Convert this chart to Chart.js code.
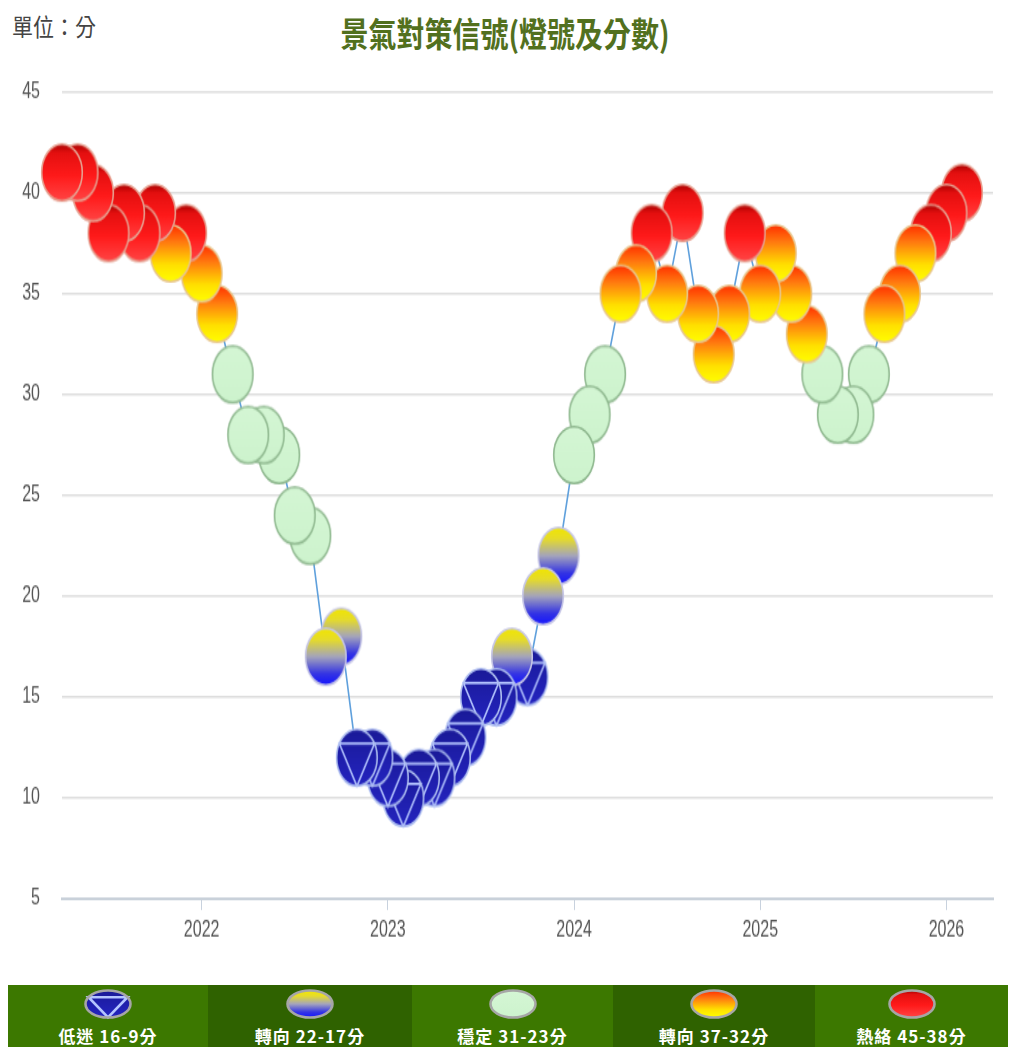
<!DOCTYPE html>
<html>
<head>
<meta charset="utf-8">
<script src="https://cdn.jsdelivr.net/npm/chart.js@4.4.1/dist/chart.umd.min.js"></script>
<style>
  body { margin: 0; background: #fff; width: 1010px; height: 1047px; overflow: hidden; position: relative;
         font-family: "Noto Sans CJK TC", "Noto Sans", sans-serif; }
  #unit { position: absolute; left: 12px; top: 14px; font-size: 21px; line-height: 21px; color: #444;
          transform: scaleY(1.15); transform-origin: 0 0; white-space: nowrap; }
  #title { position: absolute; left: 0; top: 15px; width: 1010px; text-align: center; font-size: 28px; line-height: 28px;
           color: #52701e; font-weight: bold; transform: scaleY(1.22); transform-origin: 0 0; white-space: nowrap; }
  #stretch { position: absolute; left: 0; top: 0; width: 1010px; height: 700px; transform: scaleY(1.4); transform-origin: 0 0; }
  #myChart { position: absolute; left: 0; top: 34px; }
  #legend { position: absolute; left: 8px; top: 985px; height: 62px; display: flex; }
  .cell { height: 62px; position: relative; text-align: center; color: #fff; font-weight: bold; font-size: 17px; letter-spacing: 1px; }
  .cell canvas { position: absolute; left: 50%; top: 2px; margin-left: -26px; }
  .cell span { position: absolute; left: 0; right: 0; top: 41px; line-height: 20px; white-space: nowrap; }
</style>
</head>
<body>
<div id="unit">單位：分</div>
<div id="title">景氣對策信號(燈號及分數)</div>
<div id="stretch"><canvas id="myChart" width="1010" height="656"></canvas></div>
<div id="legend"></div>
<script>
// monthly scores of the business cycle signal
const months = [
  '2021-04','2021-05','2021-06','2021-07','2021-08','2021-09','2021-10','2021-11','2021-12',
  '2022-01','2022-02','2022-03','2022-04','2022-05','2022-06','2022-07','2022-08','2022-09','2022-10','2022-11','2022-12',
  '2023-01','2023-02','2023-03','2023-04','2023-05','2023-06','2023-07','2023-08','2023-09','2023-10','2023-11','2023-12',
  '2024-01','2024-02','2024-03','2024-04','2024-05','2024-06','2024-07','2024-08','2024-09','2024-10','2024-11','2024-12',
  '2025-01','2025-02','2025-03','2025-04','2025-05','2025-06','2025-07','2025-08','2025-09','2025-10','2025-11','2025-12',
  '2026-01','2026-02'
];
const scores = [
  41, 41, 40, 38, 39, 38, 39, 37, 38,
  36, 34, 31, 28, 28, 27, 24, 23, 17, 18, 12, 12,
  11, 10, 11, 11, 12, 13, 15, 15, 17, 16, 20, 22,
  27, 29, 31, 35, 36, 38, 35, 39, 34, 32, 34, 38,
  35, 37, 35, 33, 31, 29, 29, 31, 34, 35, 37, 38,
  39, 40
];
const tickYears = ['2022', '2023', '2024', '2025', '2026'];
const yTicks = [5, 10, 15, 20, 25, 30, 35, 40, 45];
const legendLabels = ['低迷 16-9分', '轉向 22-17分', '穩定 31-23分', '轉向 37-32分', '熱絡 45-38分'];
const legendKinds = ['blue', 'blueYellow', 'green', 'orange', 'red'];
const legendBg = ['#3c7800', '#2f6200', '#3c7800', '#2f6200', '#3c7800'];
const legendWidths = [200, 204, 201, 202, 193];

function monthIndex(m) {
  const [y, mo] = m.split('-').map(Number);
  return (y - 2021) * 12 + (mo - 1);
}

function kindOf(v) {
  if (v <= 16) return 'blue';
  if (v <= 22) return 'blueYellow';
  if (v <= 31) return 'green';
  if (v <= 37) return 'orange';
  return 'red';
}

const lampFill = {
  red: [[0, '#a80000'], [0.15, '#e41010'], [0.55, '#ff1a1a'], [1, '#ff4545']],
  orange: [[0, '#ff3000'], [0.3, '#ff7a10'], [0.7, '#ffe000'], [1, '#ffff00']],
  green: [[0, '#d4f6d4'], [1, '#cdf3cd']],
  blueYellow: [[0, '#f2e600'], [0.2, '#e6dc2a'], [0.5, '#a4a4bc'], [0.8, '#3434e4'], [1, '#1414ff']],
  blue: [[0, '#1a1a98'], [1, '#2424c0']]
};
const lampRim = { red: '#e6a090', orange: '#e8c68e', green: '#8fb88f', blueYellow: '#c6c6e6', blue: '#aebef0' };

function paintLamp(c, cx, cy, rx, ry, kind, rim, rimWidth) {
  c.save();
  c.beginPath();
  c.ellipse(cx, cy, rx, ry, 0, 0, Math.PI * 2);
  const g = c.createLinearGradient(0, cy - ry, 0, cy + ry);
  lampFill[kind].forEach(s => g.addColorStop(s[0], s[1]));
  c.fillStyle = g;
  c.fill();
  if (kind === 'blue') {
    const k = Math.cos(Math.PI / 6);
    c.beginPath();
    c.moveTo(cx - k * rx, cy - ry / 2);
    c.lineTo(cx + k * rx, cy - ry / 2);
    c.lineTo(cx, cy + ry);
    c.closePath();
    c.strokeStyle = '#b4c4ff';
    c.lineWidth = rimWidth;
    c.stroke();
    c.beginPath();
    c.ellipse(cx, cy, rx, ry, 0, 0, Math.PI * 2);
  }
  c.strokeStyle = rim || lampRim[kind];
  c.lineWidth = rimWidth;
  c.stroke();
  c.restore();
}

function lampImage(kind) {
  const cv = document.createElement('canvas');
  cv.width = 44; cv.height = 44;
  paintLamp(cv.getContext('2d'), 22, 22, 20.3, 20.3, kind, null, 1.6);
  return cv;
}
const lampImages = {};
legendKinds.forEach(k => { lampImages[k] = lampImage(k); });

// later months go first so earlier lamps sit on top
const points = months.map((m, i) => ({ x: monthIndex(m), y: scores[i] })).reverse();
const pointImgs = scores.map(s => lampImages[kindOf(s)]).reverse();

const ctx = document.getElementById('myChart').getContext('2d');
const myChart = new Chart(ctx, {
  type: 'line',
  data: {
    datasets: [{
      data: points,
      borderColor: '#5fa0dc',
      borderWidth: 1.6,
      pointStyle: pointImgs,
      pointRadius: 21,
      pointHoverRadius: 21,
      tension: 0,
      clip: false
    }]
  },
  options: {
    responsive: false,
    animation: false,
    events: [],
    layout: { autoPadding: false, padding: { top: 14.3, right: 17, left: 0, bottom: 0 } },
    plugins: { legend: { display: false }, tooltip: { enabled: false } },
    scales: {
      x: {
        type: 'linear',
        min: monthIndex('2021-04'),
        max: monthIndex('2026-04'),
        afterBuildTicks: s => { s.ticks = tickYears.map(y => ({ value: monthIndex(y + '-01') })); },
        ticks: {
          autoSkip: false, maxRotation: 0, padding: 5, color: '#555',
          font: { family: 'Liberation Sans', size: 16 },
          callback: v => tickYears.find(y => monthIndex(y + '-01') === v)
        },
        grid: { drawOnChartArea: false, drawTicks: true, tickLength: 8, color: '#c8d2de' },
        border: { display: true, color: '#c9d1da', width: 2 },
        afterFit: s => { s.height = 48; }
      },
      y: {
        min: 5, max: 45,
        afterBuildTicks: s => { s.ticks = yTicks.map(v => ({ value: v })); },
        ticks: { padding: 22, color: '#555', font: { family: 'Liberation Sans', size: 16 } },
        grid: { color: '#dedede', lineWidth: 1.5, drawTicks: false },
        border: { display: false },
        afterFit: s => { s.width = 62; }
      }
    }
  }
});

// legend bar under the chart
const legend = document.getElementById('legend');
legendLabels.forEach((txt, i) => {
  const cell = document.createElement('div');
  cell.className = 'cell';
  cell.style.width = legendWidths[i] + 'px';
  cell.style.background = legendBg[i];
  const cv = document.createElement('canvas');
  cv.width = 52; cv.height = 34;
  paintLamp(cv.getContext('2d'), 26, 17, 22.5, 13.5, legendKinds[i], '#a6a6a6', 2.6);
  const sp = document.createElement('span');
  sp.textContent = txt;
  cell.appendChild(cv);
  cell.appendChild(sp);
  legend.appendChild(cell);
});
</script>
</body>
</html>
